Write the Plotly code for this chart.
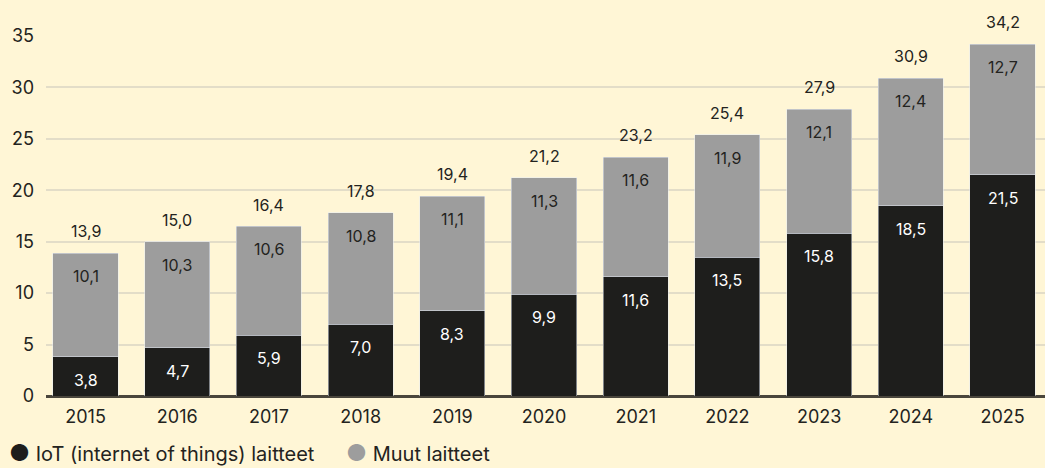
import plotly.graph_objects as go

years = ["2015", "2016", "2017", "2018", "2019", "2020", "2021", "2022", "2023", "2024", "2025"]
iot = [3.8, 4.7, 5.9, 7.0, 8.3, 9.9, 11.6, 13.5, 15.8, 18.5, 21.5]
muut = [10.1, 10.3, 10.6, 10.8, 11.1, 11.3, 11.6, 11.9, 12.1, 12.4, 12.7]
totals = [13.9, 15.0, 16.4, 17.8, 19.4, 21.2, 23.2, 25.4, 27.9, 30.9, 34.2]
y_ticks = [0, 5, 10, 15, 20, 25, 30, 35]

BG = "#fff6d6"
DARK = "#1e1e1c"
GRAY = "#9d9d9d"
TXT = "#232320"
FONT = "Inter"

def fmt(v):
    return f"{v:.1f}".replace(".", ",")

fig = go.Figure()
fig.add_bar(x=years, y=iot, marker_color=DARK, width=0.71, showlegend=False,
            name="IoT (internet of things) laitteet", hoverinfo="skip")
fig.add_bar(x=years, y=muut, marker_color=GRAY, width=0.71, showlegend=False,
            name="Muut laitteet", hoverinfo="skip")

ann = []
for i, (a, b, t) in enumerate(zip(iot, muut, totals)):
    ann.append(dict(x=i, y=a, text=fmt(a), yshift=-23, showarrow=False,
                    font=dict(family=FONT, size=16, color="#ffffff")))
    ann.append(dict(x=i, y=a + b, text=fmt(b), yshift=-23, showarrow=False,
                    font=dict(family=FONT, size=16, color=TXT)))
    ann.append(dict(x=i, y=t, text=fmt(t), yshift=22, showarrow=False,
                    font=dict(family=FONT, size=16, color=TXT)))

legend_y = -0.158
ann.append(dict(xref="paper", yref="paper", x=-0.039, y=legend_y, xanchor="left", yanchor="middle",
                showarrow=False, align="left",
                text=f'<span style="color:{DARK};font-size:23px">●</span> IoT (internet of things) laitteet',
                font=dict(family=FONT, size=20, color=TXT)))
ann.append(dict(xref="paper", yref="paper", x=0.298, y=legend_y, xanchor="left", yanchor="middle",
                showarrow=False, align="left",
                text=f'<span style="color:{GRAY};font-size:23px">●</span> Muut laitteet',
                font=dict(family=FONT, size=20, color=TXT)))

fig.update_layout(
    barmode="stack",
    width=1045, height=468,
    margin=dict(l=46, r=0, t=36, b=72),
    paper_bgcolor=BG, plot_bgcolor=BG,
    font=dict(family=FONT, size=17, color=TXT),
    annotations=ann,
    showlegend=False,
)
fig.update_xaxes(type="category", range=[-0.431, 10.463], showgrid=False, showline=False,
                 ticks="", ticklabelstandoff=8, tickfont=dict(size=18, color=TXT, family=FONT))
fig.update_yaxes(range=[0, 35], tickvals=y_ticks, showgrid=True, gridcolor="#e3ddc8", gridwidth=1.5,
                 zeroline=True, zerolinecolor="#4a463c", zerolinewidth=2.5, ticks="",
                 ticklabelstandoff=11, tickfont=dict(size=18, color=TXT, family=FONT))
for tr in fig.data:
    tr.update(cliponaxis=False)

fig.write_html("out.html", config={"displayModeBar": False},
               post_script="document.body.style.margin='0';document.body.style.background='" + BG + "';")
